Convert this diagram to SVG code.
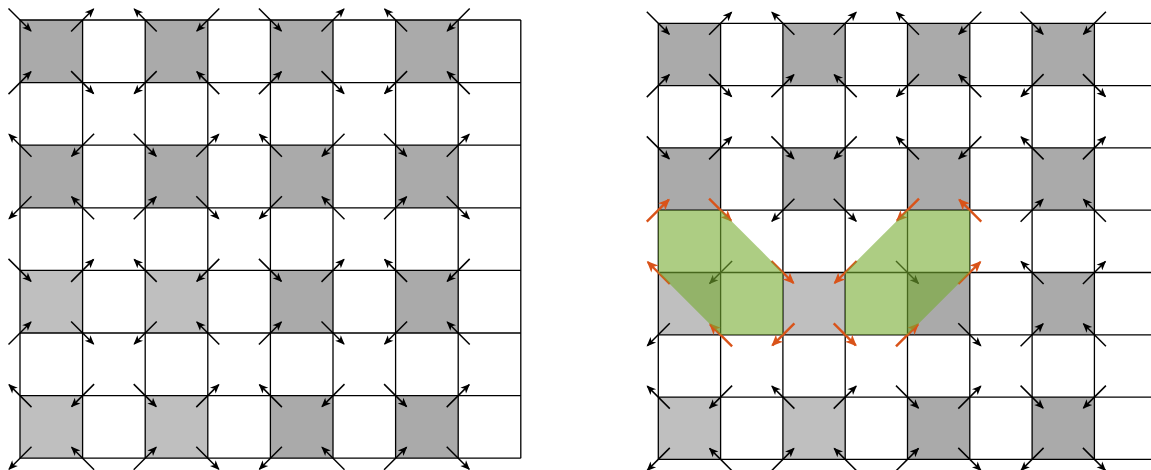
<svg xmlns="http://www.w3.org/2000/svg" xmlns:xlink="http://www.w3.org/1999/xlink" width="1151" height="470" viewBox="0 0 1151 470">
<style>
.dk{fill:#aaaaaa}
.lt{fill:#bfbfbf}
.grid{fill:none;stroke:#000;stroke-width:1.3}
.ak{stroke:#000;stroke-width:1.5;marker-end:url(#hk)}
.ao{stroke:#d95319;stroke-width:2.4;marker-end:url(#ho)}
.ov{fill:#77ac30;fill-opacity:0.6;stroke:none}
</style>
<defs>
<marker id="hk" markerUnits="userSpaceOnUse" markerWidth="12" markerHeight="10" refX="0" refY="0" orient="auto" overflow="visible"><path d="M-8.5,-4 L1,0 L-8.5,4 L-6,0 z" fill="#000"/></marker>
<marker id="ho" markerUnits="userSpaceOnUse" markerWidth="14" markerHeight="12" refX="0" refY="0" orient="auto" overflow="visible"><path d="M-10,-5 L1.5,0 L-10,5 L-7,0 z" fill="#d95319"/></marker>
<line id="aSE" class="ak" x1="-11.5" y1="-11.5" x2="11" y2="11"/>
<line id="aNW" class="ak" x1="11.5" y1="11.5" x2="-11" y2="-11"/>
<line id="aNE" class="ak" x1="-11.5" y1="11.5" x2="11" y2="-11"/>
<line id="aSW" class="ak" x1="11.5" y1="-11.5" x2="-11" y2="11"/>
<line id="oSE" class="ao" x1="-11.5" y1="-11.5" x2="10.5" y2="10.5"/>
<line id="oNW" class="ao" x1="11.5" y1="11.5" x2="-10.5" y2="-10.5"/>
<line id="oNE" class="ao" x1="-11.5" y1="11.5" x2="10.5" y2="-10.5"/>
<line id="oSW" class="ao" x1="11.5" y1="-11.5" x2="-10.5" y2="10.5"/>
</defs>
<rect width="1151" height="470" fill="#fff"/>

<g id="left-grid">
<g id="left-cells">
<rect class="dk" x="20" y="20" width="62.6" height="62.6"/>
<rect class="dk" x="145.2" y="20" width="62.6" height="62.6"/>
<rect class="dk" x="270.4" y="20" width="62.6" height="62.6"/>
<rect class="dk" x="395.6" y="20" width="62.6" height="62.6"/>
<rect class="dk" x="20" y="145.2" width="62.6" height="62.6"/>
<rect class="dk" x="145.2" y="145.2" width="62.6" height="62.6"/>
<rect class="dk" x="270.4" y="145.2" width="62.6" height="62.6"/>
<rect class="dk" x="395.6" y="145.2" width="62.6" height="62.6"/>
<rect class="lt" x="20" y="270.4" width="62.6" height="62.6"/>
<rect class="lt" x="145.2" y="270.4" width="62.6" height="62.6"/>
<rect class="dk" x="270.4" y="270.4" width="62.6" height="62.6"/>
<rect class="dk" x="395.6" y="270.4" width="62.6" height="62.6"/>
<rect class="lt" x="20" y="395.6" width="62.6" height="62.6"/>
<rect class="lt" x="145.2" y="395.6" width="62.6" height="62.6"/>
<rect class="dk" x="270.4" y="395.6" width="62.6" height="62.6"/>
<rect class="dk" x="395.6" y="395.6" width="62.6" height="62.6"/>
</g>
<path id="left-lines" class="grid" d="M20,20V458.2M82.6,20V458.2M145.2,20V458.2M207.8,20V458.2M270.4,20V458.2M333,20V458.2M395.6,20V458.2M458.2,20V458.2M520.8,20V458.2M20,20H520.8M20,82.6H520.8M20,145.2H520.8M20,207.8H520.8M20,270.4H520.8M20,333H520.8M20,395.6H520.8M20,458.2H520.8"/>
<g id="left-arrows">
<use href="#aSE" x="20" y="20"/><use href="#aNE" x="82.6" y="20"/><use href="#aNE" x="20" y="82.6"/><use href="#aSE" x="82.6" y="82.6"/>
<use href="#aNW" x="145.2" y="20"/><use href="#aSW" x="207.8" y="20"/><use href="#aSW" x="145.2" y="82.6"/><use href="#aNW" x="207.8" y="82.6"/>
<use href="#aSE" x="270.4" y="20"/><use href="#aNE" x="333" y="20"/><use href="#aNE" x="270.4" y="82.6"/><use href="#aSE" x="333" y="82.6"/>
<use href="#aNW" x="395.6" y="20"/><use href="#aSW" x="458.2" y="20"/><use href="#aSW" x="395.6" y="82.6"/><use href="#aNW" x="458.2" y="82.6"/>

<use href="#aNW" x="20" y="145.2"/><use href="#aSW" x="82.6" y="145.2"/><use href="#aSW" x="20" y="207.8"/><use href="#aNW" x="82.6" y="207.8"/>
<use href="#aSE" x="145.2" y="145.2"/><use href="#aNE" x="207.8" y="145.2"/><use href="#aNE" x="145.2" y="207.8"/><use href="#aSE" x="207.8" y="207.8"/>
<use href="#aNW" x="270.4" y="145.2"/><use href="#aSW" x="333" y="145.2"/><use href="#aSW" x="270.4" y="207.8"/><use href="#aNW" x="333" y="207.8"/>
<use href="#aSE" x="395.6" y="145.2"/><use href="#aNE" x="458.2" y="145.2"/><use href="#aNE" x="395.6" y="207.8"/><use href="#aSE" x="458.2" y="207.8"/>

<use href="#aSE" x="20" y="270.4"/><use href="#aNE" x="82.6" y="270.4"/><use href="#aNE" x="20" y="333"/><use href="#aSE" x="82.6" y="333"/>
<use href="#aNW" x="145.2" y="270.4"/><use href="#aSW" x="207.8" y="270.4"/><use href="#aSW" x="145.2" y="333"/><use href="#aNW" x="207.8" y="333"/>
<use href="#aSE" x="270.4" y="270.4"/><use href="#aNE" x="333" y="270.4"/><use href="#aNE" x="270.4" y="333"/><use href="#aSE" x="333" y="333"/>
<use href="#aNW" x="395.6" y="270.4"/><use href="#aSW" x="458.2" y="270.4"/><use href="#aSW" x="395.6" y="333"/><use href="#aNW" x="458.2" y="333"/>

<use href="#aNW" x="20" y="395.6"/><use href="#aSW" x="82.6" y="395.6"/><use href="#aSW" x="20" y="458.2"/><use href="#aNW" x="82.6" y="458.2"/>
<use href="#aSE" x="145.2" y="395.6"/><use href="#aNE" x="207.8" y="395.6"/><use href="#aNE" x="145.2" y="458.2"/><use href="#aSE" x="207.8" y="458.2"/>
<use href="#aNW" x="270.4" y="395.6"/><use href="#aSW" x="333" y="395.6"/><use href="#aSW" x="270.4" y="458.2"/><use href="#aNW" x="333" y="458.2"/>
<use href="#aSE" x="395.6" y="395.6"/><use href="#aNE" x="458.2" y="395.6"/><use href="#aNE" x="395.6" y="458.2"/><use href="#aSE" x="458.2" y="458.2"/>
</g>
</g>

<g id="right-grid">
<g id="right-cells">
<rect class="dk" x="658.3" y="23.3" width="62.3" height="62.3"/>
<rect class="dk" x="782.9" y="23.3" width="62.3" height="62.3"/>
<rect class="dk" x="907.5" y="23.3" width="62.3" height="62.3"/>
<rect class="dk" x="1032.1" y="23.3" width="62.3" height="62.3"/>
<rect class="dk" x="658.3" y="147.9" width="62.3" height="62.3"/>
<rect class="dk" x="782.9" y="147.9" width="62.3" height="62.3"/>
<rect class="dk" x="907.5" y="147.9" width="62.3" height="62.3"/>
<rect class="dk" x="1032.1" y="147.9" width="62.3" height="62.3"/>
<rect class="lt" x="658.3" y="272.5" width="62.3" height="62.3"/>
<rect class="lt" x="782.9" y="272.5" width="62.3" height="62.3"/>
<rect class="dk" x="907.5" y="272.5" width="62.3" height="62.3"/>
<rect class="dk" x="1032.1" y="272.5" width="62.3" height="62.3"/>
<rect class="lt" x="658.3" y="397.1" width="62.3" height="62.3"/>
<rect class="lt" x="782.9" y="397.1" width="62.3" height="62.3"/>
<rect class="dk" x="907.5" y="397.1" width="62.3" height="62.3"/>
<rect class="dk" x="1032.1" y="397.1" width="62.3" height="62.3"/>
</g>
<path id="right-lines" class="grid" d="M658.3,23.3V459.4M720.6,23.3V459.4M782.9,23.3V459.4M845.2,23.3V459.4M907.5,23.3V459.4M969.8,23.3V459.4M1032.1,23.3V459.4M1094.4,23.3V459.4M1156.7,23.3V459.4M658.3,23.3H1156.7M658.3,85.6H1156.7M658.3,147.9H1156.7M658.3,210.2H1156.7M658.3,272.5H1156.7M658.3,334.8H1156.7M658.3,397.1H1156.7M658.3,459.4H1156.7"/>
<g id="right-arrows">
<use href="#aSE" x="658.3" y="23.3"/><use href="#aNE" x="720.6" y="23.3"/><use href="#aNE" x="658.3" y="85.6"/><use href="#aSE" x="720.6" y="85.6"/>
<use href="#aNW" x="782.9" y="23.3"/><use href="#aNE" x="845.2" y="23.3"/><use href="#aNE" x="782.9" y="85.6"/><use href="#aNW" x="845.2" y="85.6"/>
<use href="#aNW" x="907.5" y="23.3"/><use href="#aSW" x="969.8" y="23.3"/><use href="#aSW" x="907.5" y="85.6"/><use href="#aNW" x="969.8" y="85.6"/>
<use href="#aSE" x="1032.1" y="23.3"/><use href="#aSW" x="1094.4" y="23.3"/><use href="#aSW" x="1032.1" y="85.6"/><use href="#aSE" x="1094.4" y="85.6"/>

<use href="#aSE" x="658.3" y="147.9"/><use href="#aNE" x="720.6" y="147.9"/><use href="#oNE" x="658.3" y="210.2"/><use href="#oSE" x="720.6" y="210.2"/>
<use href="#aSE" x="782.9" y="147.9"/><use href="#aSW" x="845.2" y="147.9"/><use href="#aSW" x="782.9" y="210.2"/><use href="#aSE" x="845.2" y="210.2"/>
<use href="#aNW" x="907.5" y="147.9"/><use href="#aSW" x="969.8" y="147.9"/><use href="#oSW" x="907.5" y="210.2"/><use href="#oNW" x="969.8" y="210.2"/>
<use href="#aNW" x="1032.1" y="147.9"/><use href="#aNE" x="1094.4" y="147.9"/><use href="#aNE" x="1032.1" y="210.2"/><use href="#aNW" x="1094.4" y="210.2"/>

<use href="#oNW" x="658.3" y="272.5"/><use href="#aSW" x="720.6" y="272.5"/><use href="#aSW" x="658.3" y="334.8"/><use href="#oNW" x="720.6" y="334.8"/>
<use href="#oSE" x="782.9" y="272.5"/><use href="#oSW" x="845.2" y="272.5"/><use href="#oSW" x="782.9" y="334.8"/><use href="#oSE" x="845.2" y="334.8"/>
<use href="#aSE" x="907.5" y="272.5"/><use href="#oNE" x="969.8" y="272.5"/><use href="#oNE" x="907.5" y="334.8"/><use href="#aSE" x="969.8" y="334.8"/>
<use href="#aNW" x="1032.1" y="272.5"/><use href="#aNE" x="1094.4" y="272.5"/><use href="#aNE" x="1032.1" y="334.8"/><use href="#aNW" x="1094.4" y="334.8"/>

<use href="#aNW" x="658.3" y="397.1"/><use href="#aSW" x="720.6" y="397.1"/><use href="#aSW" x="658.3" y="459.4"/><use href="#aNW" x="720.6" y="459.4"/>
<use href="#aNW" x="782.9" y="397.1"/><use href="#aNE" x="845.2" y="397.1"/><use href="#aNE" x="782.9" y="459.4"/><use href="#aNW" x="845.2" y="459.4"/>
<use href="#aSE" x="907.5" y="397.1"/><use href="#aNE" x="969.8" y="397.1"/><use href="#aNE" x="907.5" y="459.4"/><use href="#aSE" x="969.8" y="459.4"/>
<use href="#aSE" x="1032.1" y="397.1"/><use href="#aSW" x="1094.4" y="397.1"/><use href="#aSW" x="1032.1" y="459.4"/><use href="#aSE" x="1094.4" y="459.4"/>
</g>
<g id="overlays">
<polygon id="overlay-left" class="ov" points="658.3,210.2 720.6,210.2 782.9,272.5 782.9,334.8 720.6,334.8 658.3,272.5"/>
<polygon id="overlay-right" class="ov" points="907.5,210.2 969.8,210.2 969.8,272.5 907.5,334.8 845.2,334.8 845.2,272.5"/>
</g>
</g>
</svg>
